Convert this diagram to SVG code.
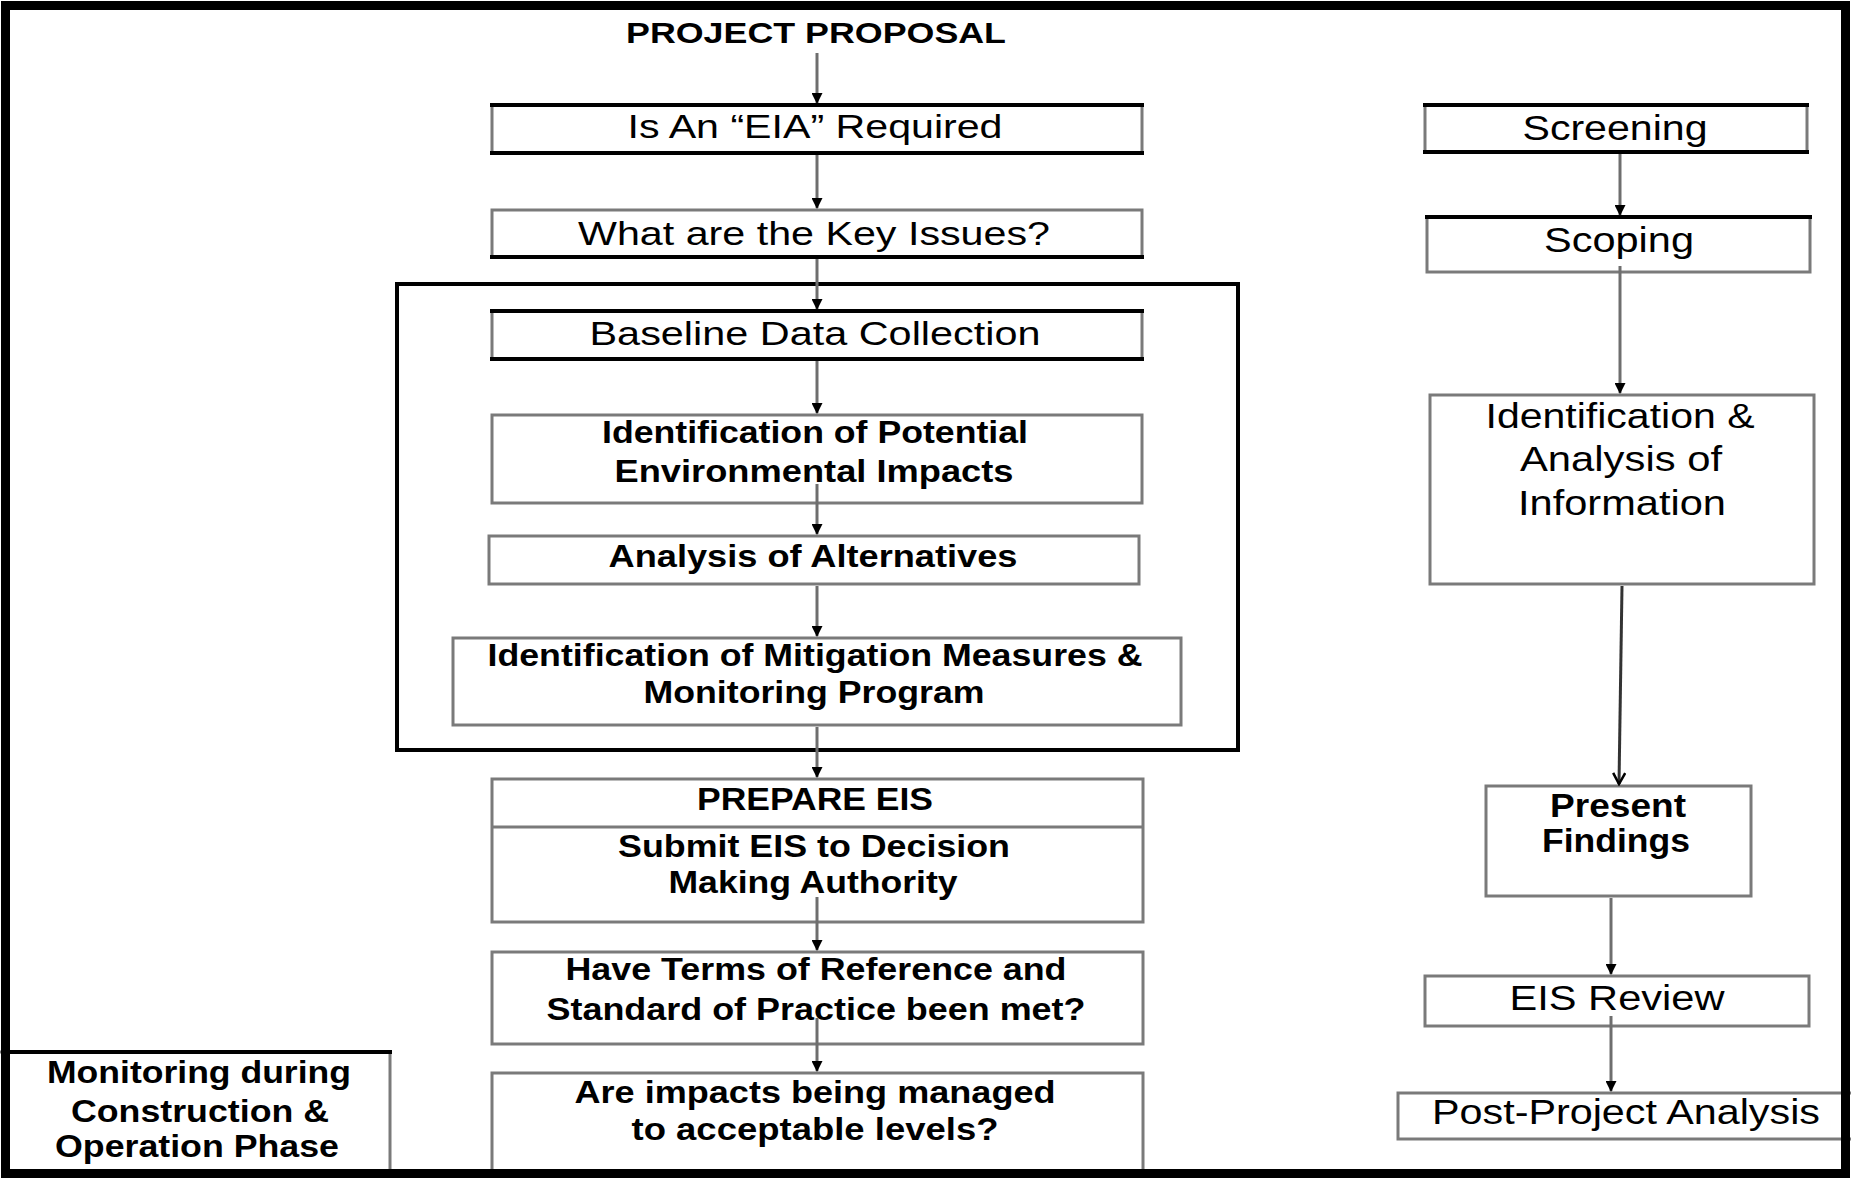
<svg xmlns="http://www.w3.org/2000/svg" width="1851" height="1178" viewBox="0 0 1851 1178">
<defs>
<style>
.t{font-family:"Liberation Sans",Arial,sans-serif;fill:#000;text-anchor:middle}
.n{font-size:33px}
.b{font-size:32px;font-weight:bold}
.r{font-size:35px}
.box{fill:#fff;stroke:#7a7a7a;stroke-width:3}
.blk{stroke:#000;stroke-width:4}
.con{stroke:#6e6e6e;stroke-width:3;fill:none}
</style>
<marker id="ah" markerUnits="userSpaceOnUse" markerWidth="11" markerHeight="11" refX="10" refY="5.5" orient="auto">
<path d="M0,0 L11,5.5 L0,11 z" fill="#000"/>
</marker>
<marker id="av" markerUnits="userSpaceOnUse" markerWidth="14" markerHeight="14" refX="12" refY="7" orient="auto">
<path d="M1,1 L12,7 L1,13" fill="none" stroke="#000" stroke-width="2.5"/>
</marker>
</defs>
<rect x="0" y="0" width="1851" height="1178" fill="#fff"/>

<g id="container">
<rect x="397" y="284" width="841" height="466" fill="none" stroke="#000" stroke-width="4"/>
</g>

<g id="n-proposal">
<text class="t" x="816" y="43" style="font-size:30px;font-weight:bold" textLength="380" lengthAdjust="spacingAndGlyphs">PROJECT PROPOSAL</text>
</g>

<g id="n-eia">
<rect class="box" x="492" y="105" width="650" height="48"/>
<line class="blk" x1="490" y1="105" x2="1144" y2="105"/>
<line class="blk" x1="490" y1="153" x2="1144" y2="153"/>
<text class="t n" x="815" y="138" textLength="375" lengthAdjust="spacingAndGlyphs">Is An “EIA” Required</text>
</g>

<g id="n-issues">
<rect class="box" x="492" y="210" width="650" height="47"/>
<line class="blk" x1="490" y1="257" x2="1144" y2="257"/>
<text class="t n" x="814" y="245" textLength="472" lengthAdjust="spacingAndGlyphs">What are the Key Issues?</text>
</g>

<g id="n-baseline">
<rect class="box" x="492" y="311" width="650" height="48"/>
<line class="blk" x1="490" y1="311" x2="1144" y2="311"/>
<line class="blk" x1="490" y1="359" x2="1144" y2="359"/>
<text class="t n" x="815" y="345" textLength="451" lengthAdjust="spacingAndGlyphs">Baseline Data Collection</text>
</g>

<g id="n-impacts">
<rect class="box" x="492" y="415" width="650" height="88"/>
<text class="t b" x="815" y="443" textLength="426" lengthAdjust="spacingAndGlyphs">Identification of Potential</text>
<text class="t b" x="814" y="482" textLength="399" lengthAdjust="spacingAndGlyphs">Environmental Impacts</text>
</g>

<g id="n-alternatives">
<rect class="box" x="489" y="536" width="650" height="48"/>
<text class="t b" x="813" y="567" textLength="409" lengthAdjust="spacingAndGlyphs">Analysis of Alternatives</text>
</g>

<g id="n-mitigation">
<rect class="box" x="453" y="638" width="728" height="87"/>
<text class="t b" x="815" y="666" textLength="655" lengthAdjust="spacingAndGlyphs">Identification of Mitigation Measures &amp;</text>
<text class="t b" x="814" y="703" textLength="341" lengthAdjust="spacingAndGlyphs">Monitoring Program</text>
</g>

<g id="n-prepare">
<rect class="box" x="492" y="779" width="651" height="143"/>
<line x1="492" y1="827" x2="1143" y2="827" stroke="#7a7a7a" stroke-width="3"/>
<text class="t b" x="815" y="810" textLength="236" lengthAdjust="spacingAndGlyphs">PREPARE EIS</text>
<text class="t b" x="814" y="857" textLength="392" lengthAdjust="spacingAndGlyphs">Submit EIS to Decision</text>
<text class="t b" x="813" y="893" textLength="289" lengthAdjust="spacingAndGlyphs">Making Authority</text>
</g>

<g id="n-terms">
<rect class="box" x="492" y="952" width="651" height="92"/>
<text class="t b" x="816" y="980" textLength="501" lengthAdjust="spacingAndGlyphs">Have Terms of Reference and</text>
<text class="t b" x="816" y="1020" textLength="539" lengthAdjust="spacingAndGlyphs">Standard of Practice been met?</text>
</g>

<g id="n-managed">
<rect class="box" x="492" y="1073" width="651" height="110"/>
<text class="t b" x="815" y="1103" textLength="481" lengthAdjust="spacingAndGlyphs">Are impacts being managed</text>
<text class="t b" x="815" y="1140" textLength="367" lengthAdjust="spacingAndGlyphs">to acceptable levels?</text>
</g>

<g id="n-monitoring">
<rect class="box" x="-10" y="1052" width="400" height="140"/>
<line class="blk" x1="10" y1="1052" x2="392" y2="1052"/>
<text class="t b" x="199" y="1083" textLength="304" lengthAdjust="spacingAndGlyphs">Monitoring during</text>
<text class="t b" x="200" y="1122" textLength="258" lengthAdjust="spacingAndGlyphs">Construction &amp;</text>
<text class="t b" x="197" y="1157" textLength="284" lengthAdjust="spacingAndGlyphs">Operation Phase</text>
</g>

<g id="n-screening">
<rect class="box" x="1425" y="105" width="382" height="47"/>
<line class="blk" x1="1423" y1="105" x2="1809" y2="105"/>
<line class="blk" x1="1423" y1="152" x2="1809" y2="152"/>
<text class="t r" x="1615" y="140" textLength="185" lengthAdjust="spacingAndGlyphs">Screening</text>
</g>

<g id="n-scoping">
<rect class="box" x="1427" y="217" width="383" height="55"/>
<line class="blk" x1="1425" y1="217" x2="1812" y2="217"/>
<text class="t r" x="1619" y="252" textLength="150" lengthAdjust="spacingAndGlyphs">Scoping</text>
</g>

<g id="n-analysis">
<rect class="box" x="1430" y="395" width="384" height="189"/>
<text class="t r" x="1620" y="428" textLength="269" lengthAdjust="spacingAndGlyphs">Identification &amp;</text>
<text class="t r" x="1621" y="471" textLength="202" lengthAdjust="spacingAndGlyphs">Analysis of</text>
<text class="t r" x="1622" y="515" textLength="208" lengthAdjust="spacingAndGlyphs">Information</text>
</g>

<g id="n-findings">
<rect class="box" x="1486" y="786" width="265" height="110"/>
<text class="t r" x="1618" y="817" style="font-weight:bold;font-size:33px" textLength="136" lengthAdjust="spacingAndGlyphs">Present</text>
<text class="t r" x="1616" y="852" style="font-weight:bold;font-size:33px" textLength="148" lengthAdjust="spacingAndGlyphs">Findings</text>
</g>

<g id="n-review">
<rect class="box" x="1425" y="976" width="384" height="50"/>
<text class="t r" x="1617" y="1010" textLength="215" lengthAdjust="spacingAndGlyphs">EIS Review</text>
</g>

<g id="n-post">
<rect class="box" x="1398" y="1093" width="470" height="46"/>
<text class="t r" x="1626" y="1124" textLength="388" lengthAdjust="spacingAndGlyphs">Post-Project Analysis</text>
</g>

<g id="connectors">
<line class="con" x1="817" y1="53" x2="817" y2="103" marker-end="url(#ah)"/>
<line class="con" x1="817" y1="155" x2="817" y2="208" marker-end="url(#ah)"/>
<line class="con" x1="817" y1="259" x2="817" y2="309" marker-end="url(#ah)"/>
<line class="con" x1="817" y1="361" x2="817" y2="413" marker-end="url(#ah)"/>
<line class="con" x1="817" y1="484" x2="817" y2="534" marker-end="url(#ah)"/>
<line class="con" x1="817" y1="586" x2="817" y2="636" marker-end="url(#ah)"/>
<line class="con" x1="817" y1="727" x2="817" y2="777" marker-end="url(#ah)"/>
<line class="con" x1="817" y1="897" x2="817" y2="950" marker-end="url(#ah)"/>
<line class="con" x1="817" y1="1018" x2="817" y2="1071" marker-end="url(#ah)"/>
<line class="con" x1="1620" y1="154" x2="1620" y2="215" marker-end="url(#ah)"/>
<line class="con" x1="1620" y1="266" x2="1620" y2="393" marker-end="url(#ah)"/>
<line class="con" x1="1622" y1="586" x2="1619" y2="784" style="stroke:#333" marker-end="url(#av)"/>
<line class="con" x1="1611" y1="898" x2="1611" y2="974" marker-end="url(#ah)"/>
<line class="con" x1="1611" y1="1016" x2="1611" y2="1091" marker-end="url(#ah)"/>
</g>

<g id="frame">
<rect x="5.5" y="5.5" width="1840" height="1168" fill="none" stroke="#000" stroke-width="9"/>
</g>
</svg>
